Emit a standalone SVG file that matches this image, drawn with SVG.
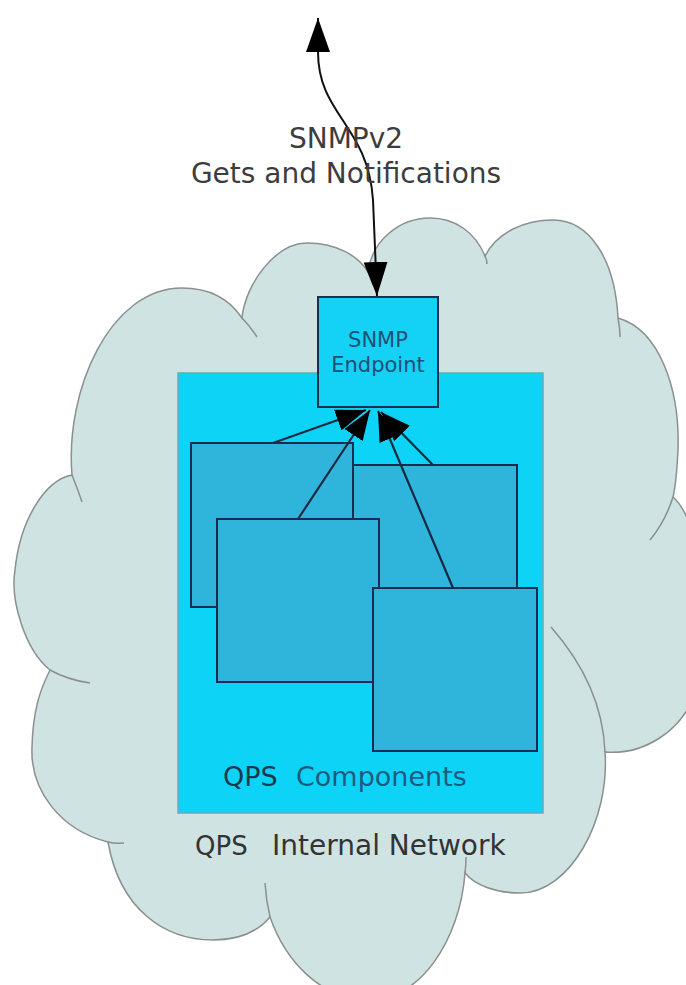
<svg xmlns="http://www.w3.org/2000/svg" width="686" height="985" viewBox="0 0 686 985">
<style>
.cloud{fill:#cfe3e3;stroke:#8a8f8f;stroke-width:1.5}
.tail{fill:none;stroke:#8a8f8f;stroke-width:1.5}
.cont{fill:#0dd4f6;stroke:#6aaab5;stroke-width:1.5}
.snmp{fill:#14d2f5;stroke:#1b2f4f;stroke-width:2}
.comp{fill:#2fb4dc;stroke:#1b2b52;stroke-width:2}
.conn{fill:none;stroke:#1a2840;stroke-width:2.2}
.top{fill:none;stroke:#111;stroke-width:2}
text{font-family:"DejaVu Sans","Liberation Sans",sans-serif}
.lbl{font-size:28px;fill:#3d3d3d;text-anchor:middle}
.ep{font-size:21px;fill:#1f4f75;text-anchor:middle}
</style>
<defs>
<marker id="ah" viewBox="0 0 30 22" refX="30" refY="11" markerWidth="30" markerHeight="22" markerUnits="userSpaceOnUse" orient="auto">
<path d="M0,0 L30,11 L0,22 Z" fill="#000"/>
</marker>
<marker id="ahBig" viewBox="0 0 34 24" refX="34" refY="12" markerWidth="34" markerHeight="24" markerUnits="userSpaceOnUse" orient="auto-start-reverse">
<path d="M0,0 L34,12 L0,24 Z" fill="#000"/>
</marker>
</defs>
<g id="cloud">
<path class="cloud" d="M72,475 C65,390 110,288 182,288 C210,288 230,300 242,318 C245,285 275,243 307,243 C335,243 358,255 368,272 C372,240 400,218 430,218 C455,218 475,232 485,256 C497,232 525,220 553,220 C590,220 615,260 618,318 C660,330 680,390 678,450 C677,470 676,485 673,497 C700,520 715,620 700,680 C685,735 640,755 605,752 C610,820 570,893 520,893 C495,893 475,885 465,873 C460,940 420,1000 370,1000 C320,1000 285,960 270,917 C255,935 235,940 213,940 C165,940 120,910 108,842 C60,830 30,790 32,747 C33,710 40,690 50,670 C25,650 10,600 15,570 C20,520 45,480 72,475 Z"/>
<path class="tail" d="M72,475 Q78,490 82,502"/>
<path class="tail" d="M242,318 Q250,326 257,337"/>
<path class="tail" d="M368,272 Q371,278 373,285"/>
<path class="tail" d="M485,256 Q487,260 487,264"/>
<path class="tail" d="M618,318 Q620,328 620,337"/>
<path class="tail" d="M673,497 Q665,522 650,540"/>
<path class="tail" d="M551,627 C580,660 603,700 605,752"/>
<path class="tail" d="M466,857 Q466,865 465,873"/>
<path class="tail" d="M265,883 Q266,900 270,917"/>
<path class="tail" d="M108,842 Q116,844 124,843"/>
<path class="tail" d="M50,670 Q68,680 90,683"/>
<text x="195" y="855" style="font-size:28px" fill="#333"><tspan style="font-size:26px">QPS</tspan><tspan x="272">Internal Network</tspan></text>
</g>
<g id="components-container">
<rect class="cont" x="178" y="373" width="365" height="440"/>
<text x="223" y="786" style="font-size:27px"><tspan fill="#1a3a4f">QPS</tspan><tspan x="296" fill="#1e5a80">Components</tspan></text>
</g>
<g id="snmp-endpoint">
<rect class="snmp" x="318" y="297" width="120" height="110"/>
<text class="ep" x="378" y="347">SNMP</text>
<text class="ep" x="378" y="372">Endpoint</text>
</g>
<g id="component-1"><rect class="comp" x="191" y="443" width="162" height="164"/></g>
<g id="component-2"><rect class="comp" x="353" y="465" width="164" height="135"/></g>
<g id="component-3"><rect class="comp" x="217" y="519" width="162" height="163"/></g>
<g id="component-4"><rect class="comp" x="373" y="588" width="164" height="163"/></g>
<g id="connectors">
<path class="top" d="M318,18 L318,52 C318,115 368,125 373,200 L377,296" marker-start="url(#ahBig)" marker-end="url(#ahBig)"/>
<line class="conn" x1="273" y1="443" x2="366" y2="410" marker-end="url(#ah)"/>
<line class="conn" x1="298" y1="519" x2="370" y2="410" marker-end="url(#ah)"/>
<line class="conn" x1="453" y1="588" x2="378" y2="411" marker-end="url(#ah)"/>
<line class="conn" x1="433" y1="465" x2="381" y2="412" marker-end="url(#ah)"/>
</g>
<g id="labels">
<text class="lbl" x="346" y="148">SNMPv2</text>
<text class="lbl" x="346" y="183">Gets and Notifications</text>
</g>
</svg>
